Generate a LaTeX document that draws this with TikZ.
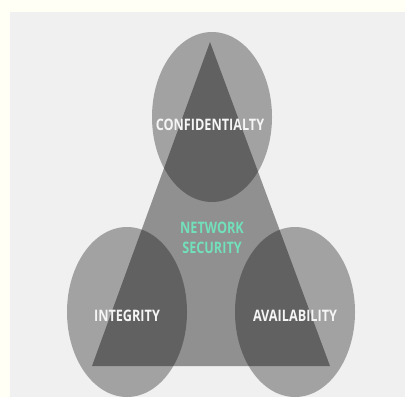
\documentclass[tikz,border=0pt]{standalone}
\usepackage{fontspec}
\setsansfont[FakeStretch=0.8]{Open Sans}
\usetikzlibrary{shapes.geometric,positioning}

\definecolor{paper}{HTML}{FFFFF6}
\definecolor{panel}{HTML}{F0F0F0}
\definecolor{mint}{HTML}{72E0BA}

\begin{document}
\begin{tikzpicture}[x=0.03cm,y=-0.03cm]

	\tikzstyle{pillar}=[ellipse,fill=black,fill opacity=0.32,
		minimum width=3.6cm,minimum height=5.1cm,inner sep=0pt]
	\tikzstyle{label}=[text=white!96!black,font=\sffamily\bfseries\fontsize{13.5}{15}\selectfont,
		inner sep=0pt]

	\fill[paper] (0,0) rectangle (405,397);
	\useasboundingbox (0,0) rectangle (405,397);
	\fill[panel] (10,12) rectangle (405,397);

	% triad
	\coordinate (apex) at (210,42);
	\coordinate (baseleft) at (92,366);
	\coordinate (baseright) at (330,366);
	\fill[black,fill opacity=0.40] (apex) -- (baseleft) -- (baseright) -- cycle;

	\node[pillar](conf) at (212,117){};
	\node[pillar](integ) at (127,312){};
	\node[pillar](avail) at (295,312){};

	\node[label] (conftext) at (210,125){CONFIDENTIALTY};
	\node[label] (integtext) at (127,316){INTEGRITY};
	\node[label] (availtext) at (295,316){AVAILABILITY};
	\node[label,text=mint,align=center,font=\sffamily\bfseries\fontsize{13.5}{17}\selectfont]
		(netsec) at (212,238){NETWORK\\ SECURITY};

\end{tikzpicture}
\end{document}
